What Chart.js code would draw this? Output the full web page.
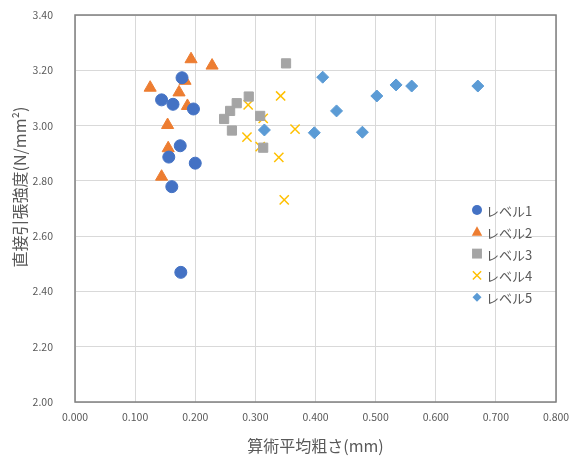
<!DOCTYPE html>
<html>
<head>
<meta charset="utf-8">
<script src="https://cdn.jsdelivr.net/npm/chart.js@4/dist/chart.umd.min.js"></script>
<style>
  html, body { margin: 0; padding: 0; background: #fff; }
  #wrap { width: 582px; height: 456px; }
</style>
</head>
<body>
<div id="wrap"><canvas id="c" width="582" height="456"></canvas></div>
<script>
// ---- data ----
const seriesNames = ['レベル1', 'レベル2', 'レベル3', 'レベル4', 'レベル5'];

const level1X = [0.178, 0.144, 0.163, 0.197, 0.175, 0.156, 0.200, 0.161, 0.176];
const level1Y = [3.173, 3.093, 3.077, 3.060, 2.927, 2.886, 2.864, 2.779, 2.469];

const level2X = [0.193, 0.228, 0.125, 0.183, 0.173, 0.187, 0.154, 0.155, 0.144];
const level2Y = [3.240, 3.217, 3.137, 3.162, 3.120, 3.071, 3.002, 2.918, 2.815];

const level3X = [0.351, 0.289, 0.269, 0.258, 0.248, 0.261, 0.308, 0.313];
const level3Y = [3.225, 3.105, 3.081, 3.053, 3.024, 2.982, 3.035, 2.920];

const level4X = [0.342, 0.288, 0.313, 0.366, 0.286, 0.308, 0.339, 0.348];
const level4Y = [3.107, 3.075, 3.026, 2.987, 2.958, 2.924, 2.885, 2.731];

const level5X = [0.412, 0.435, 0.315, 0.398, 0.478, 0.502, 0.534, 0.560, 0.670];
const level5Y = [3.175, 3.053, 2.984, 2.974, 2.976, 3.107, 3.147, 3.143, 3.143];

const xTitle = '算術平均粗さ(mm)';
const yTitle = '直接引張強度(N/mm²)';

function pts(xs, ys) { return xs.map((x, i) => ({ x: x, y: ys[i] })); }

const FONT = "'Noto Sans CJK JP', 'Noto Sans', sans-serif";
const TXT = '#595959';

const datasets = [
  { label: seriesNames[0], data: pts(level1X, level1Y), pointStyle: 'circle', pointRadius: 6,
    backgroundColor: '#4472C4', borderColor: '#4472C4', borderWidth: 1, legendR: 5 },
  { label: seriesNames[1], data: pts(level2X, level2Y), pointStyle: 'triangle', pointRadius: 7,
    backgroundColor: '#ED7D31', borderColor: '#ED7D31', borderWidth: 1, legendR: 5.5 },
  { label: seriesNames[2], data: pts(level3X, level3Y), pointStyle: 'rect', pointRadius: 6.5,
    backgroundColor: '#A5A5A5', borderColor: '#A5A5A5', borderWidth: 1, legendR: 5.5 },
  { label: seriesNames[3], data: pts(level4X, level4Y), pointStyle: 'crossRot', pointRadius: 6.5,
    backgroundColor: '#FFC000', borderColor: '#FFC000', borderWidth: 1.5, legendR: 5.5 },
  { label: seriesNames[4], data: pts(level5X, level5Y), pointStyle: 'rectRot', pointRadius: 6,
    backgroundColor: '#5B9BD5', borderColor: '#5B9BD5', borderWidth: 1, legendR: 4.5 }
];
datasets.forEach(d => { d.pointHoverRadius = d.pointRadius; });

function drawMarker(ctx, style, r, x, y, color, bw) {
  ctx.save();
  ctx.fillStyle = color; ctx.strokeStyle = color; ctx.lineWidth = bw;
  ctx.beginPath();
  if (style === 'circle') {
    ctx.arc(x, y, r, 0, Math.PI * 2); ctx.fill();
  } else if (style === 'triangle') {
    ctx.moveTo(x, y - r); ctx.lineTo(x + r * 0.95, y + r * 0.7); ctx.lineTo(x - r * 0.95, y + r * 0.7);
    ctx.closePath(); ctx.fill();
  } else if (style === 'rect') {
    const s = r * 0.9;
    ctx.rect(x - s, y - s, s * 2, s * 2); ctx.fill();
  } else if (style === 'crossRot') {
    const s = r * 0.75;
    ctx.moveTo(x - s, y - s); ctx.lineTo(x + s, y + s);
    ctx.moveTo(x + s, y - s); ctx.lineTo(x - s, y + s); ctx.stroke();
  } else if (style === 'rectRot') {
    ctx.moveTo(x, y - r); ctx.lineTo(x + r, y); ctx.lineTo(x, y + r); ctx.lineTo(x - r, y);
    ctx.closePath(); ctx.fill();
  }
  ctx.restore();
}

const extras = {
  id: 'extras',
  afterDatasetsDraw(chart) {
    const ctx = chart.ctx;
    const a = chart.chartArea;
    // plot border box
    ctx.save();
    ctx.strokeStyle = '#7f7f7f';
    ctx.lineWidth = 1.5;
    ctx.strokeRect(a.left, a.top, a.right - a.left, a.bottom - a.top);
    ctx.restore();
    // legend (inside plot, right side)
    const lx = 477, ly0 = 210, dy = 21.8;
    ctx.save();
    ctx.font = '13px ' + FONT;
    ctx.fillStyle = TXT;
    ctx.textBaseline = 'middle';
    chart.data.datasets.forEach((d, i) => {
      const y = ly0 + i * dy;
      drawMarker(ctx, d.pointStyle, d.legendR, lx, y, d.backgroundColor, d.borderWidth);
      ctx.fillStyle = TXT;
      ctx.fillText(d.label, lx + 9, y + 1);
    });
    ctx.restore();
    // y-axis title
    ctx.save();
    ctx.font = '16px ' + FONT;
    ctx.fillStyle = TXT;
    ctx.textAlign = 'center';
    ctx.textBaseline = 'middle';
    ctx.translate(20, 187);
    ctx.rotate(-Math.PI / 2);
    ctx.fillText(yTitle, 0, 0);
    ctx.restore();
  }
};

new Chart(document.getElementById('c'), {
  type: 'scatter',
  data: { datasets: datasets },
  options: {
    responsive: false,
    animation: false,
    layout: { padding: { top: 15, right: 26, left: 0, bottom: 0 } },
    plugins: { legend: { display: false }, tooltip: { enabled: false } },
    scales: {
      x: {
        type: 'linear', min: 0, max: 0.8,
        afterFit(s) { s.height = 54; s.paddingLeft = 0; s.paddingRight = 0; },
        border: { display: false },
        grid: { color: '#d9d9d9', lineWidth: 1, drawTicks: false },
        ticks: { stepSize: 0.1, padding: 9, color: TXT, font: { family: FONT, size: 10.5 },
                 callback: v => Number(v).toFixed(3) },
        title: { display: true, text: xTitle, color: TXT, font: { family: FONT, size: 16 },
                 padding: { top: 3, bottom: 0 } }
      },
      y: {
        type: 'linear', min: 2.0, max: 3.4,
        afterFit(s) { s.width = 75; s.paddingTop = 0; s.paddingBottom = 0; },
        border: { display: false },
        grid: { color: '#d9d9d9', lineWidth: 1, drawTicks: false },
        ticks: { stepSize: 0.2, padding: 22, color: TXT, font: { family: FONT, size: 10.5 },
                 callback: v => Number(v).toFixed(2) }
      }
    }
  },
  plugins: [extras]
});
</script>
</body>
</html>
